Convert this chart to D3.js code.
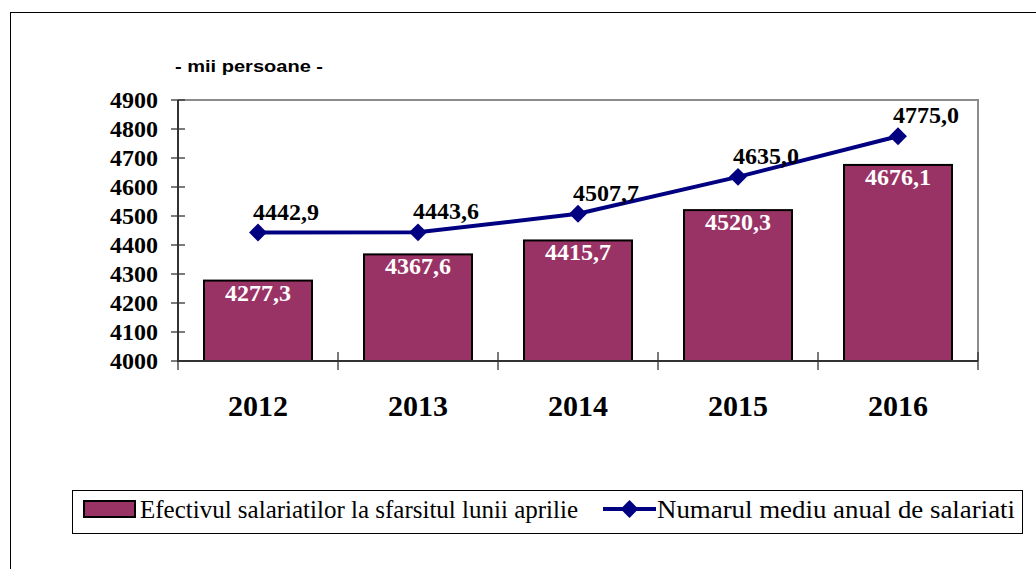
<!DOCTYPE html>
<html>
<head>
<meta charset="utf-8">
<script src="https://cdn.jsdelivr.net/npm/d3@7"></script>
<style>
  body { margin: 0; background: #fff; }
  svg { display: block; }
  .serif { font-family: 'Liberation Serif', 'Times New Roman', serif; }
  .sans { font-family: 'Liberation Sans', Arial, sans-serif; }
</style>
</head>
<body>
<svg id="svg" width="1036" height="569"></svg>
<script>
// data
const years = ['2012', '2013', '2014', '2015', '2016'];
const barValues = [4277.3, 4367.6, 4415.7, 4520.3, 4676.1];
const lineValues = [4442.9, 4443.6, 4507.7, 4635.0, 4775.0];
const yTicks = [4000, 4100, 4200, 4300, 4400, 4500, 4600, 4700, 4800, 4900];
const barName = 'Efectivul salariatilor la sfarsitul lunii aprilie';
const lineName = 'Numarul mediu anual de salariati';

const svg = d3.select('#svg');
const fmt = v => v.toFixed(1).replace('.', ',');

// outer frame
svg.append('rect')
  .attr('x', 10.5).attr('y', 12.5)
  .attr('width', 1040).attr('height', 600)
  .attr('fill', 'none').attr('stroke', '#000').attr('stroke-width', 1);

const plot = {left: 178, right: 978, top: 100, bottom: 361};

const x = d3.scaleBand().domain(years).range([plot.left, plot.right]).paddingInner(0.325).paddingOuter(0.1625);
const xEdge = d3.scaleLinear().domain([0, years.length]).range([plot.left, plot.right]);
const y = d3.scaleLinear().domain([4000, 4900]).range([plot.bottom, plot.top]);

// plot border (top/right)
svg.append('path')
  .attr('d', `M${plot.left},${plot.top}H${plot.right}V${plot.bottom}`)
  .attr('fill', 'none').attr('stroke', '#8c8c8c').attr('stroke-width', 2);

// unit title
svg.append('text')
  .attr('class', 'sans')
  .attr('x', 175).attr('y', 72)
  .attr('font-weight', 'bold').attr('font-size', 17)
  .attr('textLength', 148).attr('lengthAdjust', 'spacingAndGlyphs')
  .text('- mii persoane -');

// bars
svg.append('g').selectAll('rect').data(barValues).enter()
  .append('rect')
  .attr('x', (d, i) => x(years[i]))
  .attr('y', d => y(d))
  .attr('width', x.bandwidth())
  .attr('height', d => y(4000) - y(d))
  .attr('fill', '#993366')
  .attr('stroke', '#000').attr('stroke-width', 2);

// bar labels
svg.append('g').selectAll('text').data(barValues).enter()
  .append('text')
  .attr('class', 'serif')
  .attr('x', (d, i) => x(years[i]) + x.bandwidth() / 2)
  .attr('y', d => y(d) + 20)
  .attr('text-anchor', 'middle')
  .attr('font-weight', 'bold').attr('font-size', 24)
  .attr('fill', '#fff')
  .text(fmt);

// y axis
const yAxis = svg.append('g');
yAxis.append('line')
  .attr('x1', plot.left).attr('x2', plot.left)
  .attr('y1', plot.top).attr('y2', plot.bottom + 1)
  .attr('stroke', '#333').attr('stroke-width', 2);
yAxis.selectAll('line.tick').data(yTicks).enter()
  .append('line').attr('class', 'tick')
  .attr('x1', plot.left - 7).attr('x2', plot.left + 7)
  .attr('y1', d => y(d)).attr('y2', d => y(d))
  .attr('stroke', '#333').attr('stroke-width', 1.3);
yAxis.selectAll('text').data(yTicks).enter()
  .append('text')
  .attr('class', 'serif')
  .attr('x', 158).attr('y', d => y(d) + 8)
  .attr('text-anchor', 'end')
  .attr('font-weight', 'bold').attr('font-size', 24)
  .text(d => d);

// x axis
const xAxis = svg.append('g');
xAxis.append('line')
  .attr('x1', plot.left).attr('x2', plot.right)
  .attr('y1', plot.bottom).attr('y2', plot.bottom)
  .attr('stroke', '#333').attr('stroke-width', 2);
xAxis.selectAll('line.tick').data(d3.range(years.length + 1)).enter()
  .append('line').attr('class', 'tick')
  .attr('x1', d => xEdge(d)).attr('x2', d => xEdge(d))
  .attr('y1', plot.bottom - 9).attr('y2', plot.bottom + 9)
  .attr('stroke', '#333').attr('stroke-width', 1.3);
xAxis.selectAll('text').data(years).enter()
  .append('text')
  .attr('class', 'serif')
  .attr('x', d => x(d) + x.bandwidth() / 2).attr('y', 416)
  .attr('text-anchor', 'middle')
  .attr('font-weight', 'bold').attr('font-size', 30)
  .text(d => d);

// line
const cx = i => x(years[i]) + x.bandwidth() / 2;
const line = d3.line().x((d, i) => cx(i)).y(d => y(d));
svg.append('path')
  .datum(lineValues)
  .attr('d', line)
  .attr('fill', 'none').attr('stroke', '#000080').attr('stroke-width', 4);

const diamond = d3.symbol().type(d3.symbolSquare).size(160);
svg.append('g').selectAll('path').data(lineValues).enter()
  .append('path')
  .attr('d', diamond)
  .attr('transform', (d, i) => `translate(${cx(i)},${y(d)}) rotate(45)`)
  .attr('fill', '#000080');

svg.append('g').selectAll('text').data(lineValues).enter()
  .append('text')
  .attr('class', 'serif')
  .attr('x', (d, i) => cx(i) + 28)
  .attr('y', d => y(d) - 13)
  .attr('text-anchor', 'middle')
  .attr('font-weight', 'bold').attr('font-size', 24)
  .attr('fill', '#000')
  .text(fmt);

// legend
const legend = svg.append('g');
legend.append('rect')
  .attr('x', 72.5).attr('y', 490.5).attr('width', 950).attr('height', 43)
  .attr('fill', '#fff').attr('stroke', '#000').attr('stroke-width', 1);
legend.append('rect')
  .attr('x', 84).attr('y', 501).attr('width', 51).attr('height', 16)
  .attr('fill', '#993366').attr('stroke', '#000').attr('stroke-width', 2);
legend.append('text')
  .attr('class', 'serif')
  .attr('x', 140).attr('y', 518)
  .attr('font-size', 26)
  .attr('textLength', 438).attr('lengthAdjust', 'spacingAndGlyphs')
  .text(barName);
legend.append('line')
  .attr('x1', 603).attr('x2', 656).attr('y1', 509).attr('y2', 509)
  .attr('stroke', '#000080').attr('stroke-width', 4);
legend.append('path')
  .attr('d', diamond)
  .attr('transform', 'translate(629.5,509) rotate(45)')
  .attr('fill', '#000080');
legend.append('text')
  .attr('class', 'serif')
  .attr('x', 657).attr('y', 518)
  .attr('font-size', 26)
  .attr('textLength', 358).attr('lengthAdjust', 'spacingAndGlyphs')
  .text(lineName);
</script>
</body>
</html>
